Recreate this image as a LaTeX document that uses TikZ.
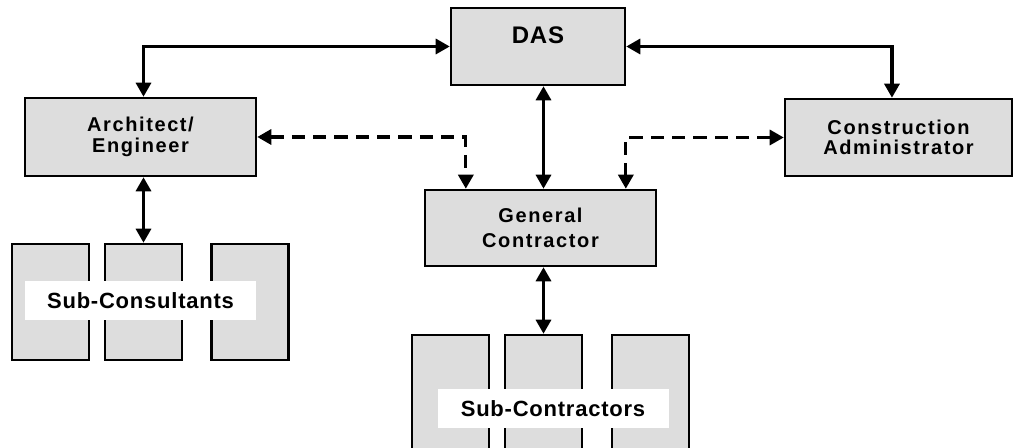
\documentclass[tikz,border=0pt]{standalone}
\usepackage{fontspec}
\setmainfont{Liberation Sans}
\newfontfamily\boxfont[LetterSpace=8]{Liberation Sans}
\newfontfamily\tagfont[LetterSpace=3.5]{Liberation Sans}
\usetikzlibrary{arrows.meta}
\definecolor{boxgray}{RGB}{221,221,221}

\begin{document}
\begin{tikzpicture}[x=0.75pt,y=-0.75pt,
  party/.style={draw,line width=1.9pt,fill=boxgray,inner sep=0pt,align=center,
    font=\boxfont\bfseries\fontsize{15}{15.5}\selectfont},
  subbox/.style={draw,line width=1.9pt,fill=boxgray,inner sep=0pt,
    minimum width=57.75pt,minimum height=87pt},
  namebox/.style={fill=white,inner sep=0pt,minimum width=173.25pt,minimum height=29.25pt,
    font=\tagfont\bfseries\fontsize{16.5}{18}\selectfont},
  link/.style={line width=2.4pt,<->,>={Triangle[length=10.5pt,width=11.25pt]}},
  dashlink/.style={link,dash pattern=on 10pt off 6pt}]
\clip[use as bounding box] (0,0) rectangle (1018,448);

\node (das) [party,minimum width=130.5pt,text height=27pt,text depth=30.75pt,
  font=\tagfont\bfseries\fontsize{18}{20}\selectfont] at (538,46.5) {DAS};
\node (arch) [party,minimum width=173.25pt,minimum height=58.5pt] at (140.5,137) {Architect/\\Engineer};
\node (cons) [party,minimum width=170.25pt,minimum height=57.75pt] at (898.5,137.5) {Construction\\Administrator};
\node (gc) [party,minimum width=173.25pt,minimum height=57pt,
  font=\boxfont\bfseries\fontsize{15}{18.5}\selectfont] at (540.5,228) {General\\Contractor};

\node (sc1) [subbox] at (50.5,302) {};
\node (sc2) [subbox] at (143.5,302) {};
\node (sc3) [subbox] at (250,302) {};
\node (sk1) [subbox] at (450.5,393) {};
\node (sk2) [subbox] at (543.5,393) {};
\node (sk3) [subbox] at (650.5,393) {};

\node (sclabel) [namebox] at (140.5,300.5) {Sub-Consultants};
\node (sklabel) [namebox] at (553,408.5) {Sub-Contractors};

\draw[link] (das.west) -| (arch.north -| sc2.north);
\draw[link] (das.east) -| ([xshift=-4.9pt]cons.north);
\draw[link] (das.south -| sk2.north) -- (gc.north -| sk2.north);
\draw[dashlink] (arch.east) -| ([xshift=-56pt]gc.north);
\draw[dashlink] (cons.west) -| ([xshift=64pt]gc.north);
\draw[link] (arch.south -| sc2.north) -- (sc2.north);
\draw[link] (gc.south -| sk2.north) -- (sk2.north);

\end{tikzpicture}
\end{document}
